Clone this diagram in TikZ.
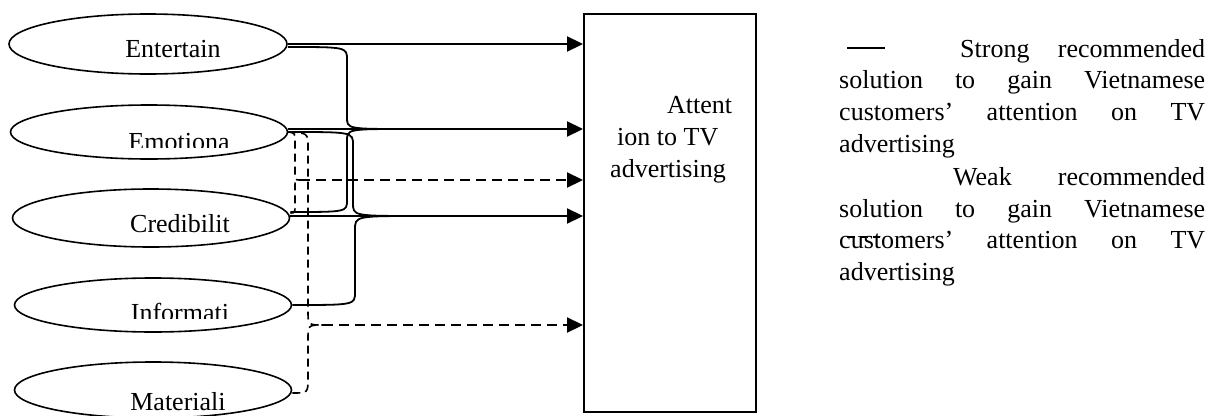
\documentclass[tikz,border=0pt]{standalone}
\usepackage{fontspec}
\setmainfont{Liberation Serif}
\usetikzlibrary{shapes.geometric,arrows.meta}
\begin{document}
\begin{tikzpicture}[x=1pt,y=-1pt,
  ell/.style={draw, ellipse, line width=1.6pt, inner sep=0pt},
  lbl/.style={font=\fontsize{26}{32}\selectfont, inner sep=0pt, anchor=base west},
  clbl/.style={font=\fontsize{26}{32}\selectfont, inner sep=0pt, anchor=base},
  arr/.style={line width=2.2pt, -{Triangle[length=16pt,width=15pt]}},
  darr/.style={line width=2.2pt, dash pattern=on 10pt off 6pt, -{Triangle[length=16pt,width=15pt]}},
  branch/.style={line width=1.8pt},
  thinb/.style={line width=1.1pt},
  dbranch/.style={line width=1.6pt, dash pattern=on 8pt off 5pt}]
\useasboundingbox (0,0) rectangle (1215,415);

% ellipses
\node[ell, minimum width=278pt, minimum height=60pt] (ent) at (148,44) {};
\node[ell, minimum width=277pt, minimum height=54pt] (emo) at (149,132) {};
\node[ell, minimum width=277pt, minimum height=58pt] (cre) at (151,218) {};
\node[ell, minimum width=277pt, minimum height=54pt] (inf) at (153,305) {};
\node[ell, minimum width=277pt, minimum height=56pt] (mat) at (153,390) {};

% ellipse labels
\node[clbl] (entt) at (173,57) {Entertain};
\begin{scope}
  \clip (100,100) rectangle (260,147);
  \node[clbl] (emot) at (179,150) {Emotiona};
\end{scope}
\node[clbl] (cret) at (180,232) {Credibilit};
\begin{scope}
  \clip (100,280) rectangle (260,318);
  \node[clbl] (inft) at (180,321) {Informati};
\end{scope}
\node[clbl] (matt) at (178,410) {Materiali};

% target box
\node[draw, line width=2pt, minimum width=172pt, minimum height=398pt, anchor=north west, inner sep=0pt] (box) at (583,13) {};
\node[lbl] (bt1) at (667,113) {Attent};
\node[lbl] (bt2) at (617,145) {ion to TV};
\node[lbl] (bt3) at (610,177) {advertising};

% junctions
\coordinate (J2) at (407,129);
\coordinate (J3) at (300,180);
\coordinate (J4) at (420,216);
\coordinate (J5) at (323,325);

% arrows into box
\draw[arr] (ent.east) -- (ent.east -| box.west);
\draw[arr] (J2) -- (J2 -| box.west);
\draw[darr] (J3) -- (J3 -| box.west);
\draw[arr] (J4) -- (J4 -| box.west);
\draw[darr] (J5) -- (J5 -| box.west);

% branches to J2
\draw[branch] ([yshift=-3pt]ent.east) .. controls (347,47) .. (347,60) -- (347,117) .. controls (347,129) .. (J2);
\draw[thinb] ([yshift=3pt]emo.east) -- (J2);
\draw[branch] ([yshift=6pt]cre.east) .. controls (347,212) .. (347,200) -- (347,141) .. controls (347,129) .. (J2);

% branches to J4
\draw[branch] (emo.east) .. controls (353,132) .. (353,145) -- (353,203) .. controls (353,216) .. (J4);
\draw[thinb] ([yshift=2pt]cre.east) -- (J4);
\draw[branch] (inf.east) .. controls (355,305) .. (355,292) -- (355,230) .. controls (355,216) .. (J4);

% dashed branches to J3
\draw[dbranch] (emo.east) .. controls (295,133) .. (295,142) -- (295,173) .. controls (295,180) .. (J3);
\draw[dbranch] ([yshift=5pt]cre.east) .. controls (295,213) .. (295,205) -- (295,187) .. controls (295,180) .. (J3);

% dashed branches to J5
\draw[dbranch] (emo.east) .. controls (308,133) .. (308,148) -- (308,310) .. controls (308,325) .. (J5);
\draw[dbranch] ([yshift=-3pt]mat.east) .. controls (308,393) .. (308,378) -- (308,340) .. controls (308,325) .. (J5);

% legend
\coordinate (ls1) at (847,48);
\coordinate (ls2) at (885,48);
\draw[line width=1.6pt] (ls1) -- (ls2);
\coordinate (ld1) at (847,237);
\coordinate (ld2) at (880,237);
\draw[line width=1.2pt, dash pattern=on 8pt off 5pt] (ld1) -- (ld2);

\node[lbl] (l1) at (960,57) {\makebox[245pt]{Strong\hfill recommended}};
\node[lbl] (l2) at (839,88) {\makebox[366pt]{solution\hfill to\hfill gain\hfill Vietnamese}};
\node[lbl] (l3) at (839,120) {\makebox[366pt]{customers’\hfill attention\hfill on\hfill TV}};
\node[lbl] (l4) at (839,152) {advertising};
\node[lbl] (l5) at (953,185) {\makebox[252pt]{Weak\hfill recommended}};
\node[lbl] (l6) at (839,217) {\makebox[366pt]{solution\hfill to\hfill gain\hfill Vietnamese}};
\node[lbl] (l7) at (839,248) {\makebox[366pt]{customers’\hfill attention\hfill on\hfill TV}};
\node[lbl] (l8) at (839,280) {advertising};
\end{tikzpicture}
\end{document}
